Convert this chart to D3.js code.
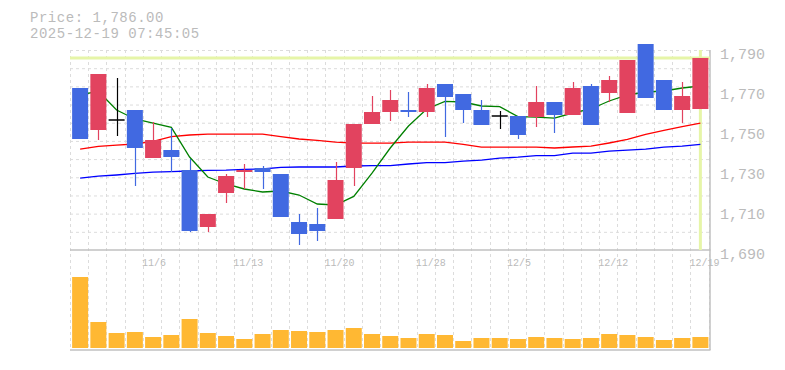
<!DOCTYPE html>
<html>
<head>
<meta charset="utf-8">
<script src="https://cdn.jsdelivr.net/npm/d3@7"></script>
<style>
    body { margin: 0; background: #fff; }
    text { font-family: "Liberation Mono", "DejaVu Sans Mono", monospace; fill: #bbb; }
</style>
</head>
<body>
<div id="chart"></div>
<script>

// ---- data ----
const dates = ["10/30","10/31","11/4","11/5","11/6","11/7","11/10","11/11","11/12","11/13",
    "11/14","11/17","11/18","11/19","11/20","11/21","11/25","11/26","11/27","11/28",
    "12/1","12/2","12/3","12/4","12/5","12/8","12/9","12/10","12/11","12/12",
    "12/15","12/16","12/17","12/18","12/19"];

const opens  = [1771, 1750, 1755, 1760, 1736, 1740, 1730, 1701.5, 1718.5, 1729,
    1731, 1728, 1704, 1703, 1705.5, 1731, 1753, 1759, 1760, 1759,
    1773, 1768, 1760, 1757, 1757, 1756.5, 1764, 1757.5, 1772, 1768.5,
    1758.5, 1793, 1775, 1760, 1760.5];
const highs  = [1771, 1778, 1776, 1760, 1754, 1751, 1735.5, 1708, 1728, 1733,
    1732, 1728, 1708, 1711, 1734, 1753, 1767, 1770, 1769, 1773,
    1773, 1768, 1765, 1759.5, 1757, 1772, 1764, 1774, 1773, 1777,
    1785, 1793, 1775, 1774, 1786];
const lows   = [1745.5, 1745, 1747, 1722, 1736, 1729, 1699, 1699, 1713.5, 1720.5,
    1720.5, 1706.5, 1692.5, 1694.5, 1705.5, 1722, 1753, 1754.5, 1756.5, 1756.5,
    1746.5, 1753.5, 1752.5, 1750.5, 1745.5, 1751.5, 1748.5, 1757.5, 1752.5, 1764,
    1758.5, 1766, 1760, 1753.5, 1760.5];
const closes = [1745.5, 1778, 1755, 1741, 1745, 1736.5, 1699.5, 1708, 1727, 1730,
    1729, 1706.5, 1698, 1699.5, 1725, 1753, 1759, 1765, 1759, 1771,
    1766.5, 1760, 1752.5, 1757, 1747.5, 1764, 1757.5, 1771, 1752.5, 1775,
    1785, 1766, 1760, 1767, 1786];
const volumes = [710, 260, 150, 160, 110, 130, 290, 150, 120, 90,
    140, 180, 170, 160, 180, 200, 140, 120, 100, 140,
    130, 70, 100, 100, 90, 110, 100, 90, 100, 140,
    130, 110, 80, 100, 110];

const ma5  = [1767.5, 1769.4, 1760, 1755.5, 1753.4, 1751.3, 1736.5, 1726.5, 1723, 1720.5,
    1719, 1719.5, 1717.5, 1713, 1712.5, 1716.8, 1728.4, 1741, 1752, 1760.5,
    1764.3, 1764, 1762, 1761.7, 1756.7, 1756.4, 1755.9, 1758.5, 1760.5, 1764.5,
    1767.5, 1769, 1769.5, 1771, 1772];
const ma25 = [1740.4, 1741.8, 1742.4, 1743, 1744.3, 1746.7, 1747.5, 1747.9, 1747.9, 1747.9,
    1747.9, 1746.7, 1745.5, 1744.8, 1743.9, 1743.5, 1743.4, 1743.4, 1743.9, 1743.9,
    1743.9, 1742.8, 1741.4, 1741.4, 1741.4, 1741.4, 1741, 1741.5, 1741.9, 1743.5,
    1745.3, 1747.8, 1749.8, 1751.7, 1753.4];
const ma75 = [1725.9, 1726.9, 1727.5, 1728.3, 1728.9, 1729.2, 1729.5, 1729.8, 1729.9, 1730.3,
    1730.5, 1731.3, 1731.5, 1731.5, 1731.5, 1732, 1732.2, 1732.2, 1733, 1733.7,
    1733.7, 1734.4, 1734.9, 1735.9, 1736.4, 1737.2, 1737.2, 1738.4, 1738.4, 1739.4,
    1739.9, 1740.4, 1741.4, 1741.9, 1742.8];

const dateLabels = ["11/6","11/13","11/20","11/28","12/5","12/12","12/19"];
const priceTicks = [1690, 1710, 1730, 1750, 1770, 1790];
const lastPrice = 1786;
const titleLines = ["Price: 1,786.00", "2025-12-19 07:45:05"];

// ---- layout ----
const W = 785, H = 370;
const left = 70, right = 710;
const priceTop = 50, priceBottom = 250;
const volTop = 250, volBottom = 348;

const svg = d3.select("#chart").append("svg")
    .attr("width", W)
    .attr("height", H);

const x = d3.scaleBand()
    .domain(dates)
    .range([71, 709.5])
    .padding(0);
const cx = d => x(d) + x.bandwidth() / 2;

const y = d3.scaleLinear()
    .domain([1690, 1790])
    .range([priceBottom, priceTop]);

const yVol = d3.scaleLinear()
    .domain([0, 980])
    .range([volBottom, volTop]);

const candles = dates.map((d, i) => ({
    date: d, open: opens[i], high: highs[i], low: lows[i], close: closes[i], vol: volumes[i]
}));

// grid
let grid = svg.append("g")
    .attr("stroke", "#dcdcdc")
    .attr("stroke-dasharray", "3,3");

let hStep = (priceBottom - priceTop) / 11;
d3.range(11).forEach(k => {
    grid.append("line")
        .attr("x1", left).attr("x2", right)
        .attr("y1", priceTop + k * hStep + 0.5).attr("y2", priceTop + k * hStep + 0.5);
});

let edges = dates.map(d => x(d)).concat([x.range()[1]]);
edges.forEach(e => {
    grid.append("line")
        .attr("x1", Math.round(e) - 0.5).attr("x2", Math.round(e) - 0.5)
        .attr("y1", priceTop).attr("y2", volBottom);
});

// borders
let border = svg.append("g")
    .attr("stroke", "#c0c0c0")
    .attr("stroke-width", 1.5)
    .attr("fill", "none");
border.append("line").attr("x1", left).attr("x2", right + 0.5).attr("y1", priceBottom).attr("y2", priceBottom);
border.append("line").attr("x1", left).attr("x2", right + 0.5).attr("y1", 350).attr("y2", 350);
border.append("line").attr("x1", right).attr("x2", right).attr("y1", priceTop).attr("y2", 350);

// current price marker
svg.append("line")
    .attr("x1", left).attr("x2", right)
    .attr("y1", y(lastPrice)).attr("y2", y(lastPrice))
    .attr("stroke", "#e6f5a8")
    .attr("stroke-width", 3);
svg.append("line")
    .attr("x1", cx(dates[dates.length - 1])).attr("x2", cx(dates[dates.length - 1]))
    .attr("y1", priceTop).attr("y2", priceBottom)
    .attr("stroke", "#e6f5a8")
    .attr("stroke-width", 3);

// volume bars
svg.append("g").selectAll("rect")
    .data(candles)
    .enter().append("rect")
    .attr("x", d => cx(d.date) - 8)
    .attr("width", 16)
    .attr("y", d => yVol(d.vol))
    .attr("height", d => yVol(0) - yVol(d.vol))
    .attr("fill", "#ffb833");

// moving averages
let maLine = arr => d3.line()
    .x((v, i) => cx(dates[i]))
    .y(v => y(v))(arr);

[[ma75, "#0000ff"], [ma25, "#ff0000"], [ma5, "#008000"]].forEach(m => {
    svg.append("path")
        .attr("d", maLine(m[0]))
        .attr("fill", "none")
        .attr("stroke", m[1])
        .attr("stroke-width", 1.3);
});

// candles
let candleColor = d => d.close > d.open ? "#e2435f" : (d.close < d.open ? "#4169e1" : "#000");

let cg = svg.append("g").selectAll("g")
    .data(candles)
    .enter().append("g");

cg.append("line")
    .attr("x1", d => Math.round(cx(d.date)) + 0.5)
    .attr("x2", d => Math.round(cx(d.date)) + 0.5)
    .attr("y1", d => y(d.high))
    .attr("y2", d => y(d.low))
    .attr("stroke", candleColor)
    .attr("stroke-width", 1.2);

cg.append("rect")
    .attr("x", d => cx(d.date) - 8)
    .attr("width", 16)
    .attr("y", d => y(Math.max(d.open, d.close)) - (d.open === d.close ? 0.75 : 0))
    .attr("height", d => Math.max(Math.abs(y(d.open) - y(d.close)), 1.5))
    .attr("fill", candleColor);

// price axis on the right
let yAxis = d3.axisRight(y)
    .tickValues(priceTicks)
    .tickFormat(d3.format(","))
    .tickSize(0)
    .tickPadding(10);

svg.append("g")
    .attr("class", "y-axis")
    .attr("transform", `translate(${right}, 3.5)`)
    .call(yAxis)
    .call(g => g.select(".domain").remove())
    .selectAll("text")
    .attr("fill", "#bbb")
    .style("font-family", "Liberation Mono, monospace")
    .style("font-size", "15px");

// date labels
let xAxis = d3.axisBottom(x)
    .tickValues(dateLabels)
    .tickSize(0)
    .tickPadding(8.6);

svg.append("g")
    .attr("class", "x-axis")
    .attr("transform", `translate(0, ${volTop})`)
    .call(xAxis)
    .call(g => g.select(".domain").remove())
    .selectAll("text")
    .attr("text-anchor", "start")
    .attr("dx", -11)
    .attr("fill", "#bbb")
    .style("font-family", "Liberation Mono, monospace")
    .style("font-size", "10px");

// title, two lines
svg.selectAll(".title")
    .data(titleLines)
    .enter().append("text")
    .attr("class", "title")
    .attr("x", 30)
    .attr("y", (d, i) => 22.3 + i * 16)
    .style("font-size", "14px")
    .style("letter-spacing", "0.53px")
    .text(d => d);

</script>
</body>
</html>
